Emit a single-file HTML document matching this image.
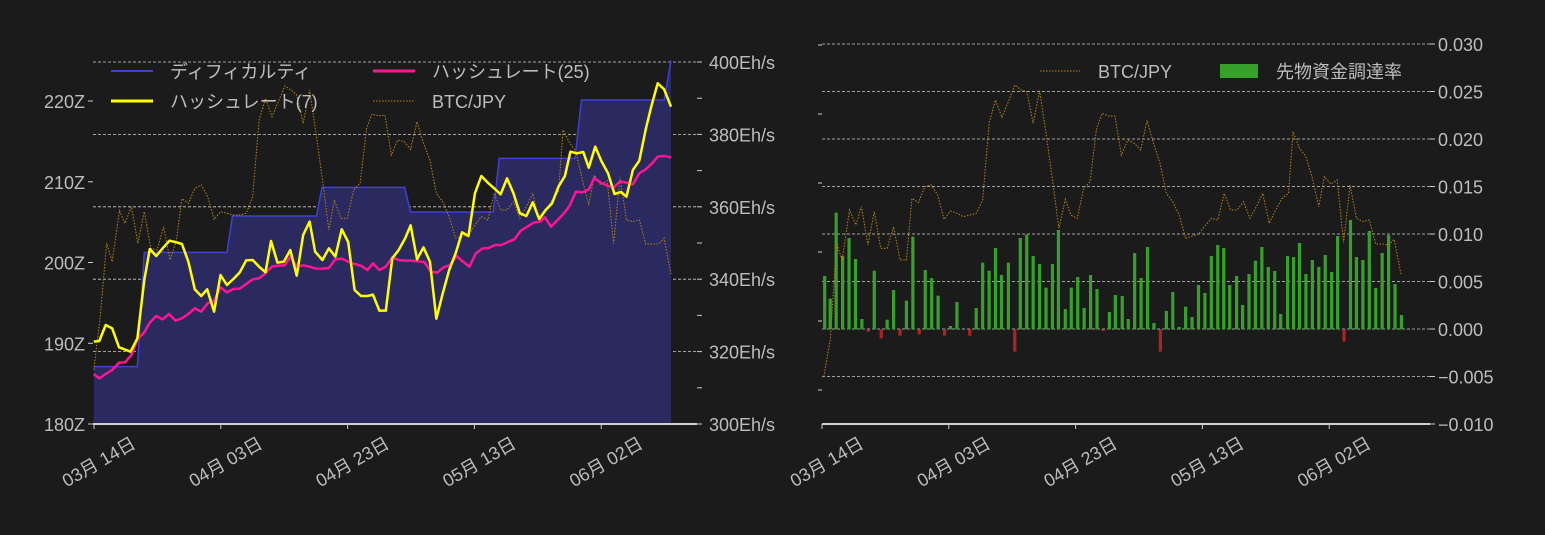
<!DOCTYPE html>
<html><head><meta charset="utf-8"><style>
html,body{margin:0;padding:0;background:#1b1b1b;overflow:hidden;}
svg{display:block;font-family:"Liberation Sans","Noto Sans CJK JP",sans-serif;}
.t{fill:#bdbdbd;font-size:18px;}
.g{stroke:#cfcfcf;stroke-width:0.8;stroke-dasharray:3,2;}
</style></head><body>
<svg id="s" width="1545" height="535" xmlns="http://www.w3.org/2000/svg">
<rect width="1545" height="535" fill="#1b1b1b"/>
<g id="L"></g>
<g id="R"></g>
</svg>
<script>
const NS="http://www.w3.org/2000/svg";
function el(p,n,a,txt){const e=document.createElementNS(NS,n);for(const k in a)e.setAttribute(k,a[k]);if(txt!==undefined)e.textContent=txt;p.appendChild(e);return e;}
const L=document.getElementById('L'),R=document.getElementById('R');
el(L,'rect',{x:93,y:42,width:604,height:382,fill:'#1b1b1b'});
[62,134.4,206.8,279.2,351.6].forEach(y=>el(L,'line',{x1:93,x2:697,y1:y,y2:y,class:'g'}));
const gl=el(L,'g',{transform:'translate(80,40) scale(0.4592,0.33333)'});
function pts(a){let s='';for(let i=0;i<a.length;i+=2)s+=a[i]+','+a[i+1]+' ';return s;}
const diff=[30,980,125,980,140,637,320,637,332,528,515,528,527,442,707,442,720,516,900,516,913,355,1078,355,1092,180,1272,180,1287,62];
el(gl,'polygon',{points:pts(diff.concat([1287,1152,30,1152])),fill:'#2b2a60'});
el(gl,'polyline',{points:pts(diff),fill:'none',stroke:'#4040d8','stroke-width':1.5,'vector-effect':'non-scaling-stroke'});
const btcL=[30,990,44,830,58,610,70,665,86,512,98,550,112,500,126,610,140,515,154,625,168,630,182,560,196,660,210,600,222,476,236,490,250,445,264,435,278,470,292,538,306,515,320,520,334,525,348,525,362,520,376,470,390,240,404,175,418,230,432,185,446,138,460,150,472,165,486,250,500,150,514,280,528,420,542,570,554,480,568,535,582,535,596,450,610,430,624,265,636,222,650,228,664,225,678,345,692,300,706,305,720,328,734,245,748,310,762,360,776,460,790,485,804,530,818,595,832,590,846,585,860,555,874,530,888,540,902,460,916,510,930,510,944,485,958,535,972,500,986,460,1000,545,1014,510,1028,480,1042,455,1052,270,1066,308,1080,335,1094,420,1108,495,1120,405,1134,435,1148,422,1162,610,1176,412,1190,540,1204,545,1218,540,1232,612,1246,612,1260,612,1272,595,1287,702];
el(gl,'polyline',{points:pts(btcL),fill:'none',stroke:'#b8860b','stroke-width':1,'stroke-dasharray':'1.5,1.5','vector-effect':'non-scaling-stroke'});
const pink=[30,1002,42,1015,56,1002,70,990,85,968,98,967,112,945,125,898,140,877,152,848,166,828,180,838,194,822,208,842,222,835,236,822,250,805,264,815,278,790,292,782,306,742,320,757,334,747,348,746,362,732,376,718,390,715,404,700,418,680,432,677,446,676,458,650,472,680,486,676,500,680,514,686,528,686,542,684,556,658,570,656,584,665,598,672,612,677,626,690,638,670,652,690,666,680,680,652,694,660,708,662,722,662,736,664,750,666,764,695,778,698,792,682,806,675,820,648,834,665,848,680,862,640,876,626,890,624,904,615,918,615,932,606,946,598,960,572,974,560,988,548,1002,545,1012,532,1026,560,1040,540,1054,520,1066,498,1080,455,1094,457,1108,448,1120,414,1134,428,1148,437,1162,443,1176,424,1190,428,1204,433,1218,400,1232,388,1246,370,1258,350,1272,348,1287,352];
el(gl,'polyline',{points:pts(pink),fill:'none',stroke:'#ff1493','stroke-width':2.5,'vector-effect':'non-scaling-stroke','stroke-linejoin':'round'});
const yel=[30,905,42,903,56,855,70,865,85,922,110,935,125,895,140,720,152,627,166,648,180,625,195,602,210,607,222,612,236,665,250,748,264,768,277,748,292,815,306,705,320,735,334,717,348,697,362,661,376,660,390,680,404,697,416,603,430,668,444,665,458,630,472,707,486,585,500,545,512,635,528,660,542,625,556,650,570,568,584,606,598,750,612,768,626,768,638,764,652,812,666,812,680,655,694,630,708,595,720,556,734,658,748,622,762,665,776,836,790,760,804,690,818,640,832,577,846,588,860,460,874,408,888,428,902,445,916,463,930,415,944,460,958,520,972,528,986,487,1000,537,1014,510,1028,490,1042,440,1056,408,1068,335,1082,340,1096,336,1108,383,1122,320,1136,365,1150,400,1164,462,1178,456,1190,470,1204,390,1218,362,1232,268,1244,200,1258,130,1272,148,1287,200];
el(gl,'polyline',{points:pts(yel),fill:'none',stroke:'#ffff00','stroke-width':2.5,'vector-effect':'non-scaling-stroke','stroke-linejoin':'round'});
el(L,'line',{x1:93,x2:697,y1:424,y2:424,stroke:'#d0d0d0','stroke-width':2});
[[424,'180Z'],[343.3,'190Z'],[262.5,'200Z'],[181.8,'210Z'],[101,'220Z']].forEach(([y,t])=>{el(L,'line',{x1:88,x2:93,y1:y,y2:y,stroke:'#ccc'});el(L,'text',{x:85,y:y+7,class:'t','text-anchor':'end'},t);});
for(let i=0;i<11;i++){const y=424-i*36.2;el(L,'line',{x1:697,x2:702,y1:y,y2:y,stroke:'#ccc'});}
[[424,'300Eh/s'],[351.6,'320Eh/s'],[279.2,'340Eh/s'],[206.8,'360Eh/s'],[134.4,'380Eh/s'],[62,'400Eh/s']].forEach(([y,t])=>el(L,'text',{x:709,y:y+7,class:'t'},t));
const labs=['03月 14日','04月 03日','04月 23日','05月 13日','06月 02日'];
function xlabels(p,x0){labs.forEach((t,i)=>{const x=x0+i*126.8;el(p,'line',{x1:x,x2:x,y1:424,y2:429,stroke:'#ccc'});el(p,'text',{x:x+43,y:447,class:'t','text-anchor':'end',transform:`rotate(-30 ${x+43} 447)`},t);});}
xlabels(L,94);
el(L,'line',{x1:111,x2:153,y1:71,y2:71,stroke:'#4040d8','stroke-width':2});
el(L,'text',{x:170,y:78,class:'t'},'ディフィカルティ');
el(L,'line',{x1:111,x2:153,y1:101,y2:101,stroke:'#ffff00','stroke-width':3});
el(L,'text',{x:170,y:108,class:'t'},'ハッシュレート(7)');
el(L,'line',{x1:373,x2:415,y1:71,y2:71,stroke:'#ff1493','stroke-width':3});
el(L,'text',{x:432,y:78,class:'t'},'ハッシュレート(25)');
el(L,'line',{x1:373,x2:415,y1:101,y2:101,stroke:'#b8860b','stroke-width':1,'stroke-dasharray':'1.5,1.5'});
el(L,'text',{x:432,y:108,class:'t'},'BTC/JPY');

[44,91.5,139,186.5,234,281.5,329,376.5].forEach(y=>el(R,'line',{x1:822,x2:1430,y1:y,y2:y,class:'g'}));
const gr=el(R,'g',{transform:'translate(810,30) scale(0.4592,0.33333)'});
const bars=[32,738,44,806,57,548,71,678,85,624,99,687,113,867,127,905,140,722,155,925,168,869,182,780,196,917,210,812,224,620,238,913,251,720,265,744,279,797,293,917,306,888,320,816,348,917,362,834,376,698,390,722,404,654,417,735,432,698,446,965,458,624,472,614,486,678,500,702,514,773,528,702,541,600,556,837,569,773,583,741,597,834,611,735,625,777,638,903,652,846,665,795,680,798,693,867,707,669,721,744,735,651,749,879,763,965,776,843,790,786,804,891,818,830,832,861,846,765,860,789,874,678,888,645,901,654,914,765,929,738,942,825,956,732,970,692,984,651,998,711,1012,723,1025,852,1040,678,1053,681,1066,639,1080,732,1094,690,1108,711,1122,675,1136,726,1149,618,1163,935,1177,570,1190,681,1204,690,1218,603,1232,774,1246,669,1260,615,1274,762,1288,855];
for(let i=0;i<bars.length;i+=2){const x=bars[i],y=bars[i+1];const neg=y>898;el(gr,'rect',{x:x-3.5,y:neg?898:y,width:7,height:Math.abs(y-898),fill:neg?'#b22222':'#36a02a'});}
const btcR=[30,1040,44,930,58,640,70,690,86,540,100,585,112,530,126,645,140,545,154,655,168,655,182,590,196,690,210,690,222,505,236,518,250,470,264,465,278,495,292,568,306,543,320,550,334,560,348,555,362,550,376,510,390,280,404,210,418,262,432,215,446,165,460,180,472,185,486,280,500,182,514,310,528,450,542,595,556,508,568,555,582,565,596,475,610,455,624,295,636,250,650,258,664,258,678,375,692,330,706,340,720,360,734,272,748,340,762,398,776,490,790,515,804,555,818,625,832,618,846,612,860,588,874,565,888,570,902,490,916,540,930,540,944,515,958,565,972,530,986,490,1000,580,1014,540,1028,505,1042,490,1052,305,1066,355,1080,380,1094,445,1108,530,1120,440,1134,462,1148,450,1162,638,1176,465,1190,565,1204,575,1218,570,1232,642,1246,642,1260,645,1272,628,1287,732];
el(gr,'polyline',{points:pts(btcR),fill:'none',stroke:'#b8860b','stroke-width':1,'stroke-dasharray':'1.5,1.5','vector-effect':'non-scaling-stroke'});
el(R,'line',{x1:822,x2:1430,y1:424,y2:424,stroke:'#d0d0d0','stroke-width':2});
[['0.030',44],['0.025',91.5],['0.020',139],['0.015',186.5],['0.010',234],['0.005',281.5],['0.000',329],['\u22120.005',376.5],['\u22120.010',424]].forEach(([t,y])=>{el(R,'line',{x1:1430,x2:1435,y1:y,y2:y,stroke:'#ccc'});el(R,'text',{x:1438,y:y+7,class:'t'},t);});
for(let i=0;i<6;i++){const y=45+i*69;el(R,'line',{x1:818,x2:822,y1:y,y2:y,stroke:'#ccc'});}
xlabels(R,822);
el(R,'line',{x1:1040,x2:1080,y1:71,y2:71,stroke:'#b8860b','stroke-width':1,'stroke-dasharray':'1.5,1.5'});
el(R,'text',{x:1098,y:78,class:'t'},'BTC/JPY');
el(R,'rect',{x:1220,y:64,width:38,height:14,fill:'#36a02a'});
el(R,'text',{x:1276,y:78,class:'t'},'先物資金調達率');
</script>
</body></html>
